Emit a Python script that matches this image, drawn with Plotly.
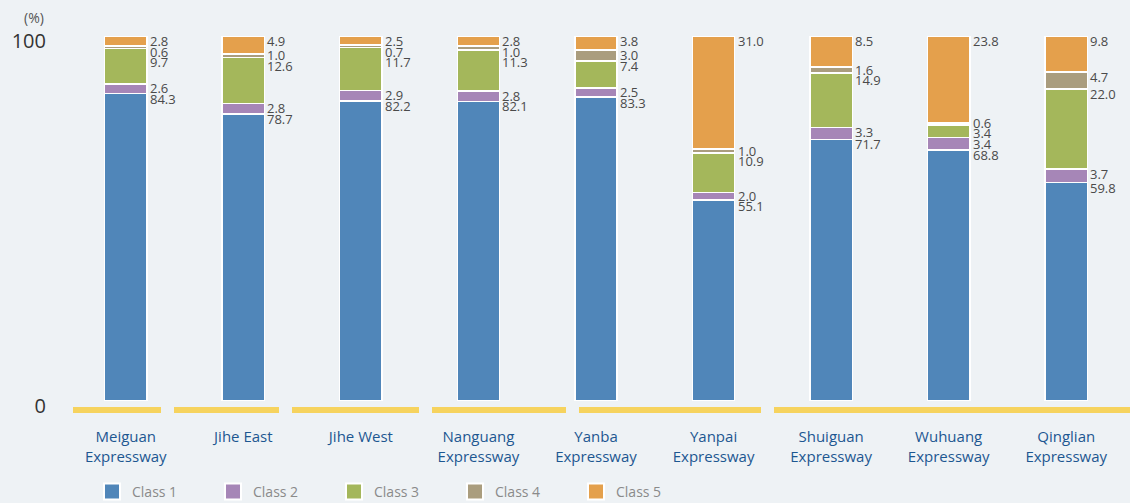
import plotly.graph_objects as go

# ---------------- data ----------------
categories = ["Meiguan<br>Expressway", "Jihe East", "Jihe West", "Nanguang<br>Expressway",
              "Yanba<br>Expressway", "Yanpai<br>Expressway", "Shuiguan<br>Expressway",
              "Wuhuang<br>Expressway", "Qinglian<br>Expressway"]
class1 = [84.3, 78.7, 82.2, 82.1, 83.3, 55.1, 71.7, 68.8, 59.8]
class2 = [2.6, 2.8, 2.9, 2.8, 2.5, 2.0, 3.3, 3.4, 3.7]
class3 = [9.7, 12.6, 11.7, 11.3, 7.4, 10.9, 14.9, 3.4, 22.0]
class4 = [0.6, 1.0, 0.7, 1.0, 3.0, 1.0, 1.6, 0.6, 4.7]
class5 = [2.8, 4.9, 2.5, 2.8, 3.8, 31.0, 8.5, 23.8, 9.8]
series_names = ["Class 1", "Class 2", "Class 3", "Class 4", "Class 5"]
y_ticks = [0, 100]

# ---------------- style ----------------
colors = ["#5086B9", "#A686B7", "#A4B75B", "#AA9D7E", "#E4A04C"]
BG = "#EEF2F5"
YELLOW = "#F6D35E"
FONT = "Open Sans"

W, H = 1130, 503
ML, MR, MT, MB = 67, 5, 36, 102
PW = W - ML - MR
PH = H - MT - MB


def px_x(p):
    return (p - ML) / PW


def px_y(p):
    return (H - MB - p) / PH


series = [class1, class2, class3, class4, class5]

fig = go.Figure()
for name, vals, col in zip(series_names, series, colors):
    fig.add_trace(go.Bar(
        x=categories, y=vals, name=name, width=0.36,
        marker=dict(color=col, line=dict(color="white", width=1.5)),
        showlegend=False, legendgroup=name, hoverinfo="skip"))
# legend entries (square markers)
for name, col in zip(series_names, colors):
    fig.add_trace(go.Scatter(
        x=[None], y=[None], mode="markers", name=name, legendgroup=name,
        marker=dict(symbol="square", size=16, color=col, line=dict(color="white", width=2))))

# ---------------- value labels (de-overlapped) ----------------
unit = PH / 100.0
offset = 5.0 / unit
gap = 10.5 / unit
annotations = []
for i, cat in enumerate(categories):
    vals = [s[i] for s in series]
    tops = []
    acc = 0
    for v in vals:
        acc += v
        tops.append(acc)
    order = list(range(len(vals)))[::-1]
    pos = [tops[k] - offset for k in order]
    top_limit = 100 - offset
    for _ in range(300):
        for j in range(len(pos) - 1):
            if pos[j] - pos[j + 1] < gap:
                mid = (pos[j] + pos[j + 1]) / 2
                pos[j] = mid + gap / 2
                pos[j + 1] = mid - gap / 2
        if pos[0] > top_limit:
            pos[0] = top_limit
    for j, k in enumerate(order):
        annotations.append(dict(
            x=cat, y=pos[j], xref="x", yref="y", text=f"{vals[k]:.1f}",
            showarrow=False, xanchor="left", yanchor="middle", xshift=22,
            font=dict(family=FONT, size=13, color="#4A4A4A")))

annotations.append(dict(x=px_x(46), y=px_y(18), xref="paper", yref="paper", text="(%)",
                        showarrow=False, xanchor="right", yanchor="middle",
                        font=dict(family=FONT, size=14, color="#555555")))

# ---------------- yellow road segments ----------------
segments = [(73, 161), (174, 279), (292, 419), (432, 566), (579, 761), (774, 1130)]
shapes = []
for a, b in segments:
    shapes.append(dict(type="rect", xref="paper", yref="paper",
                       x0=px_x(a), x1=px_x(b), y0=px_y(413), y1=px_y(407),
                       fillcolor=YELLOW, line=dict(width=0), layer="above"))

fig.update_layout(
    width=W, height=H, barmode="stack", bargap=0.64,
    paper_bgcolor=BG, plot_bgcolor=BG,
    margin=dict(l=ML, r=MR, t=MT, b=MB, autoexpand=False),
    font=dict(family=FONT),
    annotations=annotations, shapes=shapes,
    legend=dict(orientation="h", x=92 / W, xanchor="left", xref="container",
                y=1 - 476 / H, yanchor="top", yref="container",
                entrywidth=76, entrywidthmode="pixels",
                font=dict(family=FONT, size=14, color="#8A8A8A"),
                bgcolor="rgba(0,0,0,0)", itemclick=False, itemdoubleclick=False),
    xaxis=dict(type="category", showgrid=False, zeroline=False, showline=False,
               ticks="", ticklabelstandoff=25, automargin=False,
               tickfont=dict(family=FONT, size=15, color="#1D5791")),
    yaxis=dict(range=[0, 100], tickvals=y_ticks, showgrid=False, zeroline=False,
               showline=False, ticks="", ticklabelstandoff=20, ticklabelshift=5,
               automargin=False,
               tickfont=dict(family=FONT, size=20, color="#333333")),
)

fig.write_html("out.html")
